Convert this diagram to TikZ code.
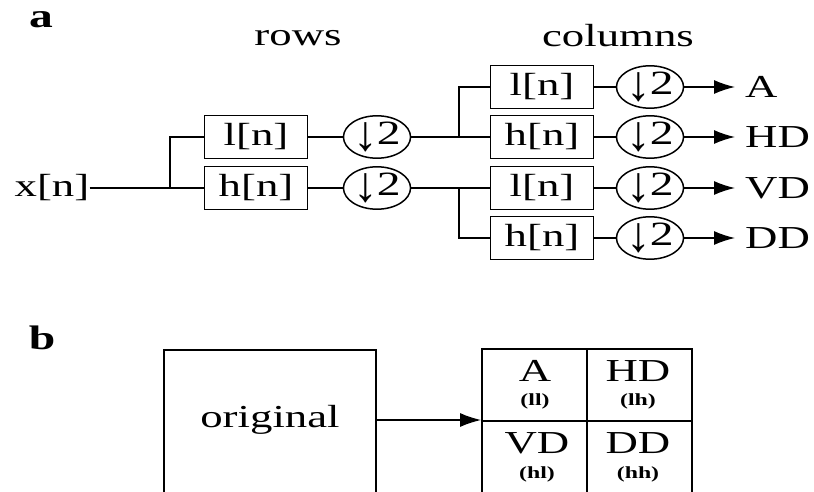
\documentclass[tikz,border=0pt]{standalone}
\usepackage{fontspec}
\setmainfont{Liberation Serif}[FakeStretch=1.4]
\usetikzlibrary{shapes.geometric,arrows.meta}
\newcommand{\dsym}{\raisebox{-6pt}{\scalebox{1.1}[1.55]{↓}}\kern-1pt{\fontsize{34}{36}\selectfont 2}}
\tikzset{
  txt/.style={inner sep=0pt, font=\fontsize{32}{36}\selectfont},
  lbl/.style={inner sep=0pt, font=\fontsize{34}{38}\selectfont\bfseries},
  small/.style={inner sep=0pt, font=\fontsize{17}{19}\selectfont\bfseries},
  filt/.style={draw, line width=1.8pt, minimum width=103pt, minimum height=43pt, inner sep=0pt, font=\fontsize{32}{36}\selectfont},
  ds/.style={draw, ellipse, line width=1.5pt, minimum width=62pt, minimum height=42pt, inner sep=0pt, font=\fontsize{32}{36}\selectfont},
  wire/.style={line width=1.5pt},
  arr/.style={line width=1.5pt, -{Latex[length=21pt,width=14pt]}},
  cell/.style={draw, line width=1.8pt, minimum width=105pt, minimum height=72pt, inner sep=0pt},
}
\begin{document}
\begin{tikzpicture}[x=1pt,y=-1pt]
\useasboundingbox (0,0) rectangle (814,492);
\clip (0,0) rectangle (814,492);
% panel a
\node[lbl] (la) at (41,20) {a};
\node[txt] (rows) at (298,38) {rows};
\node[txt] (cols) at (618,36) {columns};
\node[txt] (xn) at (52,188) {x[n]};
\coordinate (j1) at (170,188);
\node[filt] (l1) at (256,137) {l[n]};
\node[filt] (h1) at (256,188) {h[n]};
\node[ds] (d1) at (377,137) {\dsym};
\node[ds] (d2) at (377,188) {\dsym};
\draw[wire] (xn.east) -- (j1) |- (l1.west);
\draw[wire] (j1) -- (h1.west);
\draw[wire] (l1.east) -- (d1.west);
\draw[wire] (h1.east) -- (d2.west);
\coordinate (j2) at (459,137);
\coordinate (j3) at (459,188);
\node[filt] (c1) at (542,87) {l[n]};
\node[filt] (c2) at (542,137) {h[n]};
\node[filt] (c3) at (542,188) {l[n]};
\node[filt] (c4) at (542,238) {h[n]};
\draw[wire] (d1.east) -- (j2) -- (c2.west);
\draw[wire] (j2) |- (c1.west);
\draw[wire] (d2.east) -- (j3) -- (c3.west);
\draw[wire] (j3) |- (c4.west);
\foreach \i/\y/\t in {1/87/A,2/137/HD,3/188/VD,4/238/DD}{
  \node[ds] (e\i) at (650,\y) {\dsym};
  \draw[wire] (c\i.east) -- (e\i.west);
  \node[txt, anchor=west] (o\i) at (745,\y) {\t};
  \draw[arr] (e\i.east) -- ([xshift=-10pt]o\i.west);
}
% panel b
\node[lbl] (lb) at (42,338) {b};
\node[draw, line width=1.8pt, minimum width=212pt, minimum height=200pt, inner sep=0pt] (obox) at (270,450) {};
\node[txt] (otxt) at (270,420) {original};
\node[cell] (g1) at (534.5,385) {};
\node[cell] (g2) at (639.5,385) {};
\node[cell] (g3) at (534.5,457) {};
\node[cell] (g4) at (639.5,457) {};
\draw[arr] (otxt -| obox.east) -- (otxt -| g1.west);
\node[txt] (tA) at (535,371) {A};
\node[small] (sA) at (535,401) {(ll)};
\node[txt] (tHD) at (638,371) {HD};
\node[small] (sHD) at (638,401) {(lh)};
\node[txt] (tVD) at (537,443) {VD};
\node[small] (sVD) at (537,474) {(hl)};
\node[txt] (tDD) at (638,443) {DD};
\node[small] (sDD) at (638,474) {(hh)};
\end{tikzpicture}
\end{document}
